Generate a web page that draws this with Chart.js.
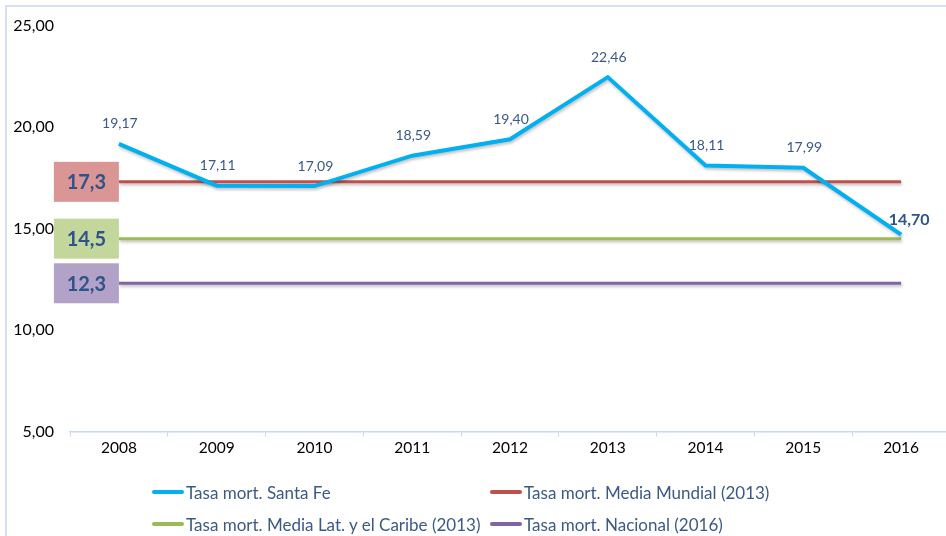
<!DOCTYPE html>
<html>
<head>
<meta charset="utf-8">
<script src="https://cdn.jsdelivr.net/npm/chart.js@4.4.1/dist/chart.umd.min.js"></script>
<style>
  html, body { margin: 0; padding: 0; background: #fff; overflow: hidden; }
  #wrap { position: relative; width: 946px; height: 536px; overflow: hidden; }
  #c { position: absolute; left: 0; top: 0; }
  .leg { position: absolute; font-family: Lato, "Open Sans", sans-serif; font-size: 17px; color: #3a5a85; white-space: nowrap; display: flex; align-items: center; height: 22px; }
  .leg span.sw { display: inline-block; width: 32px; height: 4px; border-radius: 2px; margin-right: 2px; }
</style>
</head>
<body>
<div id="wrap">
  <canvas id="c" width="952" height="536"></canvas>
</div>
<script>
const years = ["2008","2009","2010","2011","2012","2013","2014","2015","2016"];
const santaFe = [19.17, 17.11, 17.09, 18.59, 19.40, 22.46, 18.11, 17.99, 14.70];
const mundial = [17.3, 17.3, 17.3, 17.3, 17.3, 17.3, 17.3, 17.3, 17.3];
const latCaribe = [14.5, 14.5, 14.5, 14.5, 14.5, 14.5, 14.5, 14.5, 14.5];
const nacional = [12.3, 12.3, 12.3, 12.3, 12.3, 12.3, 12.3, 12.3, 12.3];
const seriesNames = ["Tasa mort. Santa Fe", "Tasa mort. Media Mundial (2013)", "Tasa mort. Media Lat. y el Caribe (2013)", "Tasa mort. Nacional (2016)"];
const refLabels = ["17,3", "14,5", "12,3"];
const yTicks = [5, 10, 15, 20, 25];

const colors = ["#00b0f0", "#c0504d", "#9bbb59", "#8064a2"];
const boxColors = ["#d99694", "#c3d69b", "#b3a2c7"];
const fontFam = 'Lato, "Open Sans", sans-serif';
const fmt = v => v.toFixed(2).replace('.', ',');

// legend (HTML, real text)
const legPos = [[152, 481], [490, 481], [152, 513], [490, 513]];
const wrap = document.getElementById('wrap');
seriesNames.forEach((n, i) => {
  const d = document.createElement('div');
  d.className = 'leg';
  d.style.left = legPos[i][0] + 'px';
  d.style.top = legPos[i][1] + 'px';
  d.innerHTML = '<span class="sw" style="background:' + colors[i] + '"></span>' + n;
  wrap.appendChild(d);
});

const frame = {
  id: 'frame',
  beforeDraw(chart) {
    const ctx = chart.ctx;
    ctx.save();
    ctx.strokeStyle = '#d5e1f2';
    ctx.lineWidth = 2;
    ctx.beginPath();
    ctx.moveTo(6, 540); ctx.lineTo(6, 6); ctx.lineTo(960, 6);
    ctx.stroke();
    ctx.restore();
  }
};

const shadow = {
  id: 'shadow',
  beforeDatasetDraw(chart) {
    const ctx = chart.ctx;
    ctx.save();
    ctx.shadowColor = 'rgba(0,0,0,0.25)';
    ctx.shadowBlur = 3;
    ctx.shadowOffsetX = 1;
    ctx.shadowOffsetY = 2;
  },
  afterDatasetDraw(chart) { chart.ctx.restore(); }
};

const labelsPlugin = {
  id: 'vals',
  afterDatasetsDraw(chart) {
    const ctx = chart.ctx;
    const meta = chart.getDatasetMeta(0);
    ctx.save();
    ctx.textAlign = 'center';
    ctx.textBaseline = 'middle';
    meta.data.forEach((p, i) => {
      const last = i === meta.data.length - 1;
      ctx.fillStyle = last ? '#2f5388' : '#3a5a85';
      ctx.font = (last ? 'bold 16px ' : '14px ') + fontFam;
      const dx = last ? 8 : 1;
      const dy = last ? -15 : -20;
      ctx.fillText(fmt(santaFe[i]), p.x + dx, p.y + dy);
    });
    // reference label boxes
    [1, 2, 3].forEach((di, k) => {
      const m = chart.getDatasetMeta(di);
      const p0 = m.data[0];
      const w = 65, h = 40;
      const x = p0.x - w, y = p0.y - h / 2;
      ctx.fillStyle = boxColors[k];
      ctx.fillRect(x, y, w, h);
      ctx.fillStyle = '#2f5388';
      ctx.font = 'bold 20px ' + fontFam;
      ctx.fillText(refLabels[k], x + w / 2, p0.y + 1);
    });
    ctx.restore();
  }
};

const mk = (i, data, w) => ({
  label: seriesNames[i], data: data, borderColor: colors[i], backgroundColor: colors[i],
  borderWidth: w, pointRadius: 0, tension: 0, fill: false
});

new Chart(document.getElementById('c'), {
  type: 'line',
  data: {
    labels: years,
    datasets: [mk(0, santaFe, 4), mk(1, mundial, 3), mk(2, latCaribe, 3), mk(3, nacional, 3)]
  },
  options: {
    responsive: false,
    animation: false,
    devicePixelRatio: 1,
    layout: { padding: { left: 7, right: 2, top: 19, bottom: 77 } },
    plugins: { legend: { display: false }, tooltip: { enabled: false } },
    scales: {
      x: {
        offset: true,
        grid: { display: true, drawOnChartArea: false, drawTicks: true, tickLength: 5, color: '#c6d9f1', offset: true },
        border: { display: true, color: '#c6d9f1', width: 1.5 },
        ticks: { color: '#000', font: { family: fontFam, size: 15.5 }, padding: 2, maxRotation: 0 }
      },
      y: {
        min: 5, max: 25,
        afterBuildTicks(scale) { scale.ticks = yTicks.map(v => ({ value: v })); },
        afterFit(scale) { scale.width = 63; },
        grid: { display: false, drawTicks: false, tickLength: 0 },
        border: { display: false },
        ticks: { color: '#000', font: { family: fontFam, size: 16 }, padding: 16, callback: v => fmt(v) }
      }
    }
  },
  plugins: [frame, shadow, labelsPlugin]
});
</script>
</body>
</html>
